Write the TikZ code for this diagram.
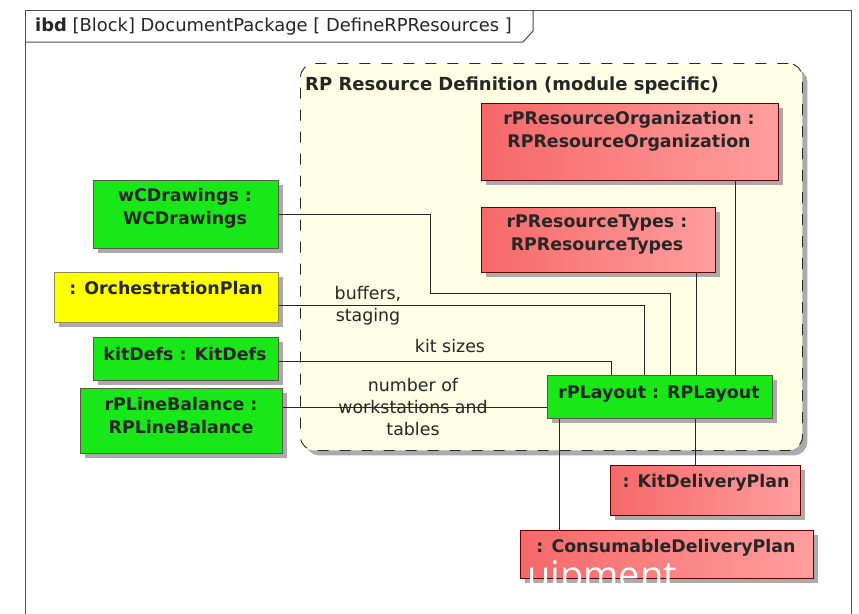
\documentclass[tikz,border=0pt]{standalone}
\usepackage{fontspec}
\setmainfont{DejaVu Sans}
\newfontfamily\ovfont{Open Sans}
\usetikzlibrary{shadows}
\definecolor{boxgreen}{RGB}{24,232,24}
\definecolor{boxred}{RGB}{246,104,104}
\definecolor{boxredlight}{RGB}{255,158,158}
\definecolor{boxyellow}{RGB}{255,255,0}
\definecolor{regionfill}{RGB}{255,255,230}
\definecolor{shadowgray}{RGB}{170,170,170}
\definecolor{borderdark}{RGB}{90,90,70}
\tikzset{
  shd/.style={drop shadow={shadow xshift=5pt, shadow yshift=-5pt, fill=shadowgray, opacity=1}},
  blk/.style={draw=borderdark, line width=0.8pt, inner sep=0pt, anchor=north west, shd},
  greenblk/.style={blk, fill=boxgreen},
  redblk/.style={blk, left color=boxred, right color=boxredlight, draw=black!60!red},
  yellowblk/.style={blk, fill=boxyellow, draw=black!50!yellow},
  boxtxt/.style={font=\bfseries\fontsize{17.4}{23}\selectfont, align=center, inner sep=0pt, text=black!85},
  lbl/.style={font=\fontsize{17.4}{22}\selectfont, align=center, inner sep=0pt, text=black!85},
  conn/.style={draw=black!85, line width=0.9pt},
  regionbox/.style={draw=black!85, line width=0.9pt, dash pattern=on 11pt off 11pt, rounded corners=14pt, fill=regionfill, anchor=north west, inner sep=0pt, shd}
}
\begin{document}
\begin{tikzpicture}[x=1pt,y=-1pt]
\useasboundingbox (0,0) rectangle (859,613);
\clip (0,0) rectangle (859,613);
\fill[white] (0,0) rectangle (859,613);
% frame
\draw[draw=black!70, line width=1pt] (25,640) -- (25,10) -- (851,10) -- (851,640);
\draw[draw=black!70, line width=1pt] (25,42) -- (523,42) -- (533,31) -- (533,10);
\node[anchor=base west, inner sep=0pt, font=\fontsize{17.9}{20}\selectfont, text=black!85] (hdr) at (35,31) {\textbf{ibd} [Block] DocumentPackage [ DefineRPResources ]};
% region
\node[regionbox, minimum width=502pt, minimum height=387pt] (region) at (300,63) {};
\node[anchor=base west, inner sep=0pt, font=\bfseries\fontsize{18}{22}\selectfont, text=black!85] (title) at (305,90) {RP Resource Definition (module specific)};
% blocks
\node[redblk, minimum width=297pt, minimum height=77pt] (rorg) at (481,103) {};
\node[redblk, minimum width=234pt, minimum height=65pt] (rtypes) at (481,207) {};
\node[greenblk, minimum width=185pt, minimum height=68pt] (wcd) at (93,180) {};
\node[yellowblk, minimum width=224pt, minimum height=50pt] (orch) at (54,272) {};
\node[greenblk, minimum width=185pt, minimum height=43pt] (kit) at (93,337) {};
\node[greenblk, minimum width=202pt, minimum height=65pt] (rplb) at (80,388) {};
\node[greenblk, minimum width=225pt, minimum height=43pt] (rplay) at (547,375) {};
\node[redblk, minimum width=190pt, minimum height=50pt] (kdp) at (610,465) {};
\node[redblk, minimum width=293pt, minimum height=48pt] (cdp) at (520,530) {};
% block texts
\node[boxtxt] (rorgt) at (629,131) {rPResourceOrganization :\\RPResourceOrganization};
\node[boxtxt] (rtypest) at (597,235) {rPResourceTypes :\\RPResourceTypes};
\node[boxtxt] (wcdt) at (185,208.5) {wCDrawings :\\WCDrawings};
\node[boxtxt] (orcht) at (166,288) {: OrchestrationPlan};
\node[boxtxt] (kitt) at (185,354) {kitDefs : KitDefs};
\node[boxtxt] (rplbt) at (181,416) {rPLineBalance :\\RPLineBalance};
\node[boxtxt] (rplayt) at (659,394) {rPLayout : RPLayout};
\node[boxtxt] (kdpt) at (706,483) {: KitDeliveryPlan};
\node[boxtxt] (cdpt) at (666,548) {: ConsumableDeliveryPlan};
% labels
\node[lbl] (l1) at (368,306) {buffers,\\staging};
\node[lbl] (l2) at (450,346) {kit sizes};
\node[lbl] (l3) at (413,407) {number of\\workstations and\\tables};
% connectors
\draw[conn] (wcd.east) -| (430,293) -| ([xshift=10.5pt]rplay.north);
\draw[conn] ([yshift=-8pt]orch.east) -| ([xshift=-15.5pt]rplay.north);
\draw[conn] ([yshift=-2.5pt]kit.east) -| ([xshift=-48.5pt]rplay.north);
\draw[conn] ([yshift=13.5pt]rplb.east) -- ([yshift=13.5pt]rplb.east -| rplay.west);
\draw[conn] ([xshift=-19pt]rtypes.south east) -- ([xshift=-19pt]rtypes.south east |- rplay.north);
\draw[conn] ([xshift=-43pt]rorg.south east) -- ([xshift=-43pt]rorg.south east |- rplay.north);
\draw[conn] ([xshift=-10pt]kdp.north) -- ([xshift=-10pt]kdp.north |- rplay.south);
\draw[conn] ([xshift=39pt]cdp.north west) -- ([xshift=39pt]cdp.north west |- rplay.south);
% overlay text
\node[anchor=base west, inner sep=0pt, font=\ovfont\fontsize{38}{40}\selectfont, text=white] (ov) at (527,588) {uipment};
\end{tikzpicture}
\end{document}
